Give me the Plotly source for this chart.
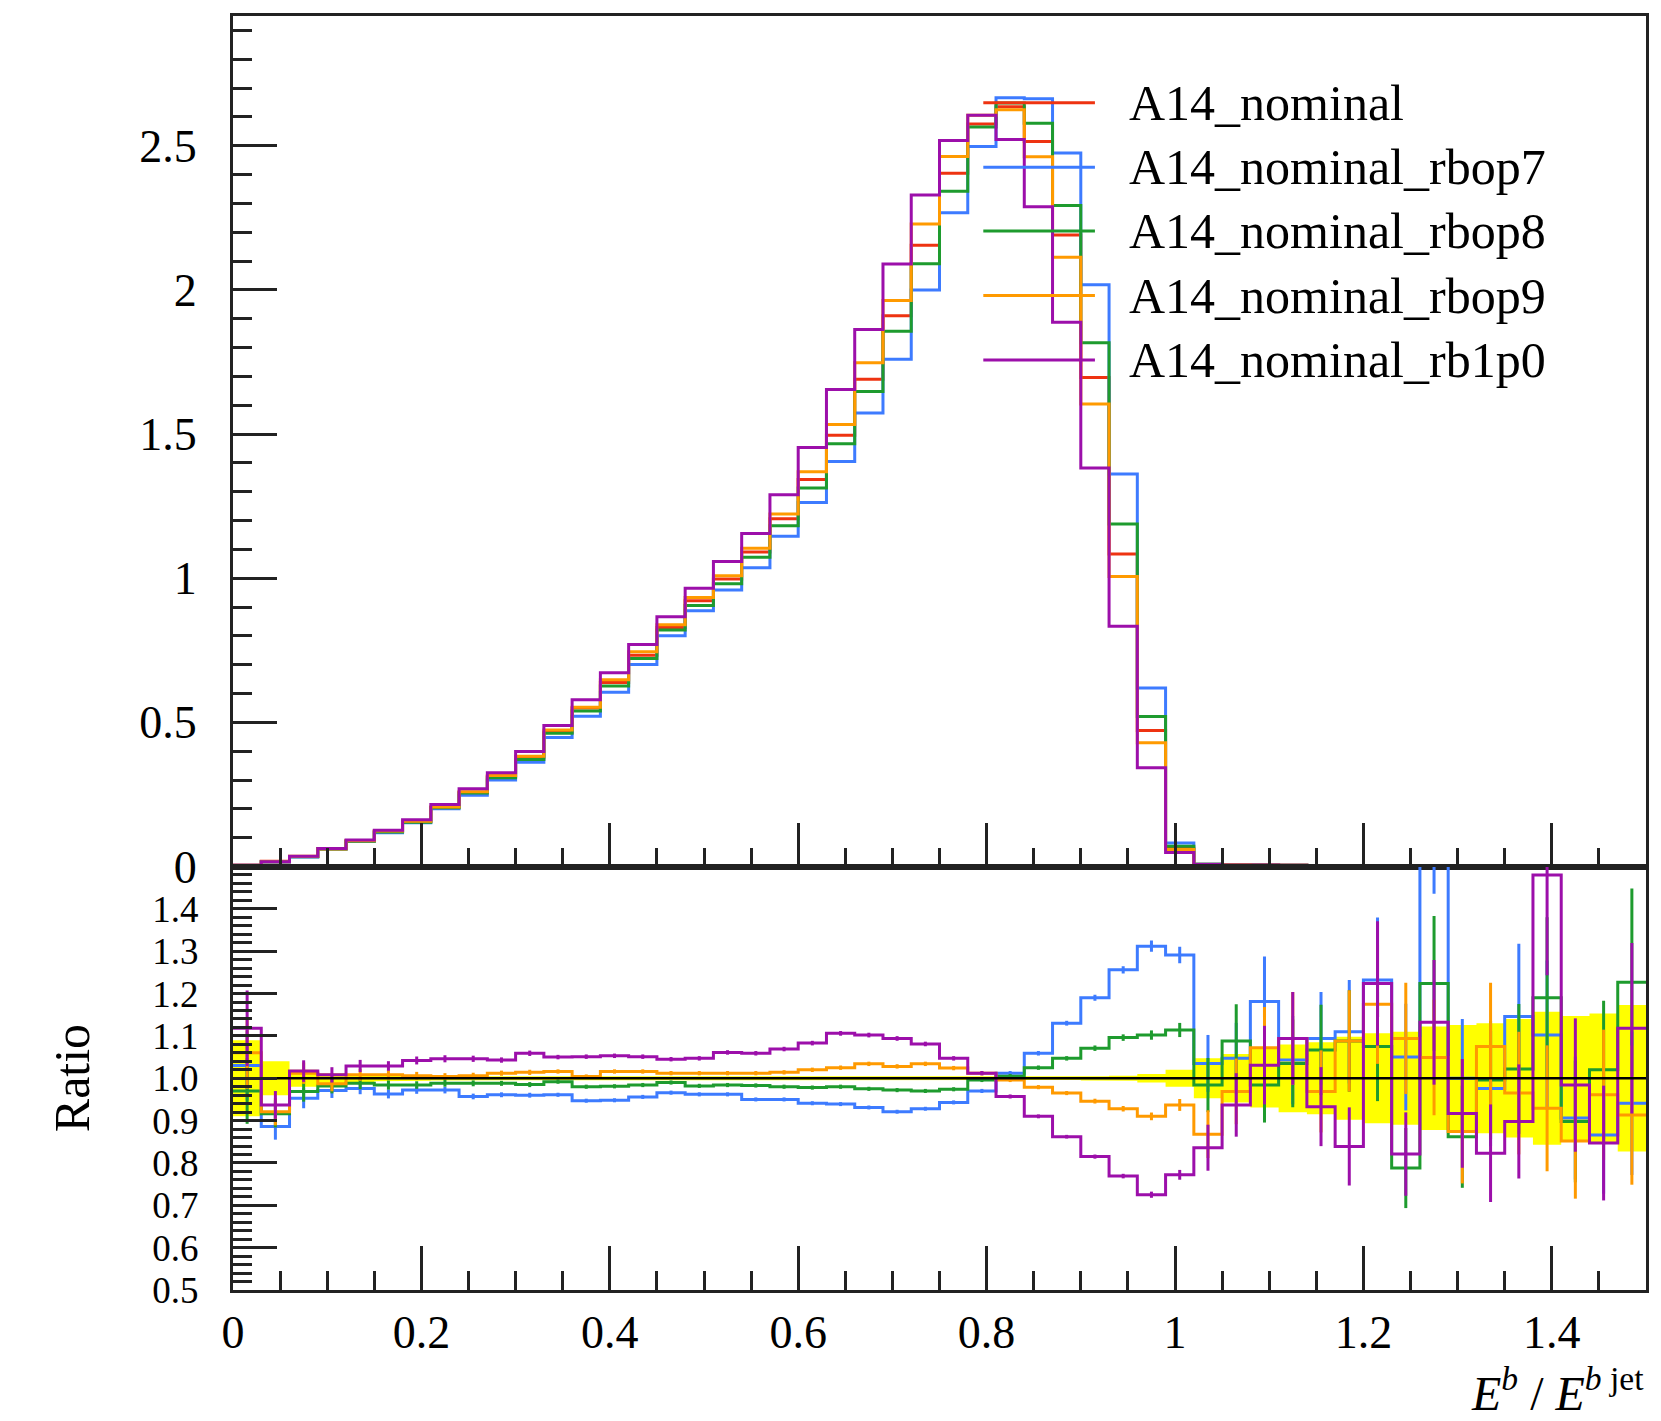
import plotly.graph_objects as go

# ---------------- data ----------------
n_bins = 50
bin_width = 0.03
edges = [round(i * bin_width, 4) for i in range(n_bins + 1)]
centers = [round((i + 0.5) * bin_width, 4) for i in range(n_bins)]

series_names = ["A14_nominal", "A14_nominal_rbop7", "A14_nominal_rbop8",
                "A14_nominal_rbop9", "A14_nominal_rb1p0"]
series_colors = ["#EE3311", "#3D7BFF", "#1E9B2E", "#FF9A00", "#9C0FAA"]

# A14_nominal (normalised distribution)
nominal = [0.004, 0.018, 0.035, 0.062, 0.089, 0.122, 0.156, 0.206, 0.258, 0.312,
           0.377, 0.466, 0.550, 0.638, 0.733, 0.829, 0.922, 0.997, 1.091, 1.206,
           1.342, 1.496, 1.690, 1.910, 2.155, 2.405, 2.575, 2.635, 2.515, 2.190,
           1.696, 1.084, 0.472, 0.063, 0.008, 0.006, 0.005, 0.004, 0.0035, 0.003,
           0.0027, 0.0024, 0.0021, 0.0019, 0.0017, 0.0015, 0.0013, 0.0012, 0.0011, 0.001]

# ratios to nominal
ratio_rbop7 = [1.030, 0.886, 0.953, 0.971, 0.976, 0.963, 0.972, 0.972, 0.957, 0.961,
               0.960, 0.961, 0.947, 0.948, 0.956, 0.966, 0.962, 0.962, 0.950, 0.950,
               0.941, 0.939, 0.931, 0.921, 0.928, 0.943, 0.970, 1.012, 1.059, 1.130,
               1.190, 1.256, 1.312, 1.291, 1.035, 1.047, 1.181, 1.043, 1.094, 1.110,
               1.232, 1.050, 1.650, 1.000, 0.976, 1.146, 1.102, 0.906, 0.866, 0.941]
ratio_rbop8 = [0.970, 0.916, 0.969, 0.982, 0.988, 0.984, 0.984, 0.988, 0.988, 0.988,
               0.985, 0.992, 0.980, 0.981, 0.984, 0.990, 0.982, 0.984, 0.983, 0.980,
               0.978, 0.980, 0.975, 0.972, 0.970, 0.974, 0.996, 1.005, 1.025, 1.047,
               1.071, 1.096, 1.102, 1.114, 0.984, 1.088, 0.984, 1.035, 1.067, 1.088,
               1.075, 0.788, 1.224, 0.862, 0.996, 1.022, 1.190, 0.898, 1.020, 1.227]
ratio_rbop9 = [1.060, 0.921, 1.012, 0.987, 1.008, 1.008, 1.006, 1.004, 1.006, 1.012,
               1.014, 1.016, 1.004, 1.016, 1.016, 1.012, 1.012, 1.012, 1.012, 1.014,
               1.020, 1.025, 1.034, 1.028, 1.034, 1.024, 1.012, 0.996, 0.979, 0.965,
               0.946, 0.928, 0.910, 0.937, 0.868, 0.969, 1.072, 1.094, 0.969, 1.088,
               1.175, 1.094, 1.049, 0.874, 1.075, 0.965, 0.929, 0.852, 0.961, 0.913]
ratio_rb1p0 = [1.118, 0.937, 1.017, 1.008, 1.029, 1.029, 1.042, 1.046, 1.046, 1.043,
               1.059, 1.050, 1.051, 1.053, 1.051, 1.045, 1.047, 1.061, 1.059, 1.069,
               1.083, 1.106, 1.102, 1.094, 1.081, 1.047, 1.012, 0.957, 0.910, 0.862,
               0.815, 0.769, 0.725, 0.772, 0.836, 0.937, 1.031, 1.094, 0.933, 0.839,
               1.224, 0.821, 1.132, 0.917, 0.823, 0.898, 1.480, 0.984, 0.847, 1.118]

# relative stat. uncertainty of nominal (yellow band)
nominal_rel_err = [0.090, 0.040, 0.020, 0.012, 0.009, 0.007, 0.006, 0.005, 0.005, 0.004,
                   0.004, 0.004, 0.004, 0.004, 0.004, 0.004, 0.004, 0.004, 0.004, 0.004,
                   0.004, 0.004, 0.004, 0.004, 0.004, 0.004, 0.004, 0.004, 0.004, 0.004,
                   0.005, 0.006, 0.010, 0.020, 0.047, 0.057, 0.069, 0.080, 0.085, 0.098,
                   0.106, 0.110, 0.122, 0.126, 0.130, 0.140, 0.157, 0.147, 0.153, 0.173]
# typical relative stat. uncertainty of the variations (error bars)
variation_rel_err = [0.080, 0.035, 0.025, 0.018, 0.014, 0.011, 0.009, 0.008, 0.007, 0.006,
                     0.006, 0.005, 0.005, 0.005, 0.005, 0.005, 0.005, 0.005, 0.005, 0.005,
                     0.005, 0.005, 0.005, 0.005, 0.005, 0.005, 0.005, 0.005, 0.005, 0.005,
                     0.006, 0.007, 0.010, 0.015, 0.065, 0.080, 0.090, 0.100, 0.100, 0.110,
                     0.120, 0.120, 0.130, 0.140, 0.140, 0.150, 0.160, 0.160, 0.160, 0.180]

x_tick_vals = [0, 0.2, 0.4, 0.6, 0.8, 1.0, 1.2, 1.4]
x_tick_text = ["0", "0.2", "0.4", "0.6", "0.8", "1", "1.2", "1.4"]
y_tick_vals = [0, 0.5, 1.0, 1.5, 2.0, 2.5]
y_tick_text = ["0", "0.5", "1", "1.5", "2", "2.5"]
r_tick_vals = [0.5, 0.6, 0.7, 0.8, 0.9, 1.0, 1.1, 1.2, 1.3, 1.4]
r_tick_text = ["0.5", "0.6", "0.7", "0.8", "0.9", "1.0", "1.1", "1.2", "1.3", "1.4"]

ratios = [[1.0] * n_bins, ratio_rbop7, ratio_rbop8, ratio_rbop9, ratio_rb1p0]

# ---------------- figure ----------------
FONT = "Liberation Serif"
AX = "#222222"
fig = go.Figure()

def step(vals):
    return list(vals) + [vals[-1]]

# main panel
for name, col, rat in zip(series_names, series_colors, ratios):
    vals = [n * r for n, r in zip(nominal, rat)]
    fig.add_trace(go.Scatter(x=edges, y=step(vals), mode="lines", line_shape="hv",
                             line=dict(color=col, width=3), name=name,
                             xaxis="x", yaxis="y", showlegend=False))

# ratio panel: yellow band
bx, by_up, by_lo = [], [], []
for i in range(n_bins):
    bx += [edges[i], edges[i + 1]]
    by_up += [1 + nominal_rel_err[i]] * 2
    by_lo += [1 - nominal_rel_err[i]] * 2
fig.add_trace(go.Scatter(x=bx + bx[::-1], y=by_up + by_lo[::-1], mode="lines",
                         fill="toself", fillcolor="#FFFF00", line=dict(width=0),
                         xaxis="x2", yaxis="y2", showlegend=False, hoverinfo="skip"))

for name, col, rat in zip(series_names[1:], series_colors[1:], ratios[1:]):
    fig.add_trace(go.Scatter(x=edges, y=step(rat), mode="lines", line_shape="hv",
                             line=dict(color=col, width=3), xaxis="x2", yaxis="y2",
                             showlegend=False))
    fig.add_trace(go.Scatter(x=centers, y=rat, mode="markers",
                             marker=dict(size=1, color=col),
                             error_y=dict(type="data", array=[r * e for r, e in zip(rat, variation_rel_err)],
                                          color=col, thickness=3, width=0),
                             xaxis="x2", yaxis="y2", showlegend=False))

# reference line (nominal / nominal)
fig.add_trace(go.Scatter(x=edges, y=step(ratios[0]), mode="lines", line_shape="hv",
                         line=dict(color="black", width=2.5), xaxis="x2", yaxis="y2",
                         showlegend=False))

split = 0.3324
common_axis = dict(showline=True, mirror=True, linecolor=AX, linewidth=3,
                   ticks="inside", tickcolor=AX, tickwidth=2.5, ticklen=44,
                   showgrid=False, zeroline=False,
                   tickfont=dict(family=FONT, size=46, color="black"))

minor_x = dict(ticks="inside", tickmode="array",
               tickvals=[round(0.05 * i, 3) for i in range(31)],
               ticklen=19, tickwidth=2.5, tickcolor=AX)

fig.update_layout(
    width=1661, height=1421,
    margin=dict(l=233, r=13, t=16, b=131),
    paper_bgcolor="white", plot_bgcolor="white",
    showlegend=False,
    font=dict(family=FONT, size=46, color="black"),
    xaxis=dict(common_axis, domain=[0, 1], anchor="y", range=[0, 1.5],
               tickmode="array", tickvals=x_tick_vals, ticktext=x_tick_text,
               showticklabels=False, minor=minor_x),
    yaxis=dict(common_axis, domain=[split, 1], anchor="x", range=[0, 2.95],
               tickmode="array", tickvals=y_tick_vals, ticktext=y_tick_text,
               ticklabelstandoff=24,
               minor=dict(ticks="inside", tickmode="array",
                          tickvals=[round(0.1 * i, 3) for i in range(30)],
                          ticklen=19, tickwidth=2.5, tickcolor=AX)),
    xaxis2=dict(common_axis, domain=[0, 1], anchor="y2", range=[0, 1.5],
                tickmode="array", tickvals=x_tick_vals, ticktext=x_tick_text,
                ticklabelstandoff=0, minor=minor_x),
    yaxis2=dict(common_axis, domain=[0, split], anchor="x2", range=[0.5, 1.5],
                tickmode="array", tickvals=r_tick_vals, ticktext=r_tick_text,
                ticklabelstandoff=24, tickfont=dict(family=FONT, size=37, color="black"),
                minor=dict(ticks="inside", tickmode="array",
                           tickvals=[round(0.5 + 0.02 * i, 3) for i in range(51)],
                           ticklen=19, tickwidth=2.5, tickcolor=AX)),
)

# legend drawn by hand
leg_y = [0.9319, 0.8812, 0.8312, 0.7806, 0.7300]
for name, col, yy in zip(series_names, series_colors, leg_y):
    fig.add_shape(type="line", xref="paper", yref="paper", x0=0.531, x1=0.610,
                  y0=yy, y1=yy, line=dict(color=col, width=3))
    fig.add_annotation(xref="paper", yref="paper", x=0.6325, y=yy, text=name,
                       showarrow=False, xanchor="left", yanchor="middle",
                       font=dict(family=FONT, size=50, color="black"))

# axis titles
fig.add_annotation(xref="paper", yref="paper", x=1.0, y=-0.104, showarrow=False,
                   xanchor="right", yanchor="bottom",
                   text="<i>E</i><sup><i>b</i></sup> / <i>E</i><sup><i>b</i> jet</sup>",
                   font=dict(family=FONT, size=48, color="black"))
fig.add_annotation(xref="paper", yref="paper", x=-0.1138, y=0.1664, showarrow=False,
                   textangle=-90, xanchor="center", yanchor="middle", text="Ratio",
                   font=dict(family=FONT, size=50, color="black"))

fig.write_html("out.html")
